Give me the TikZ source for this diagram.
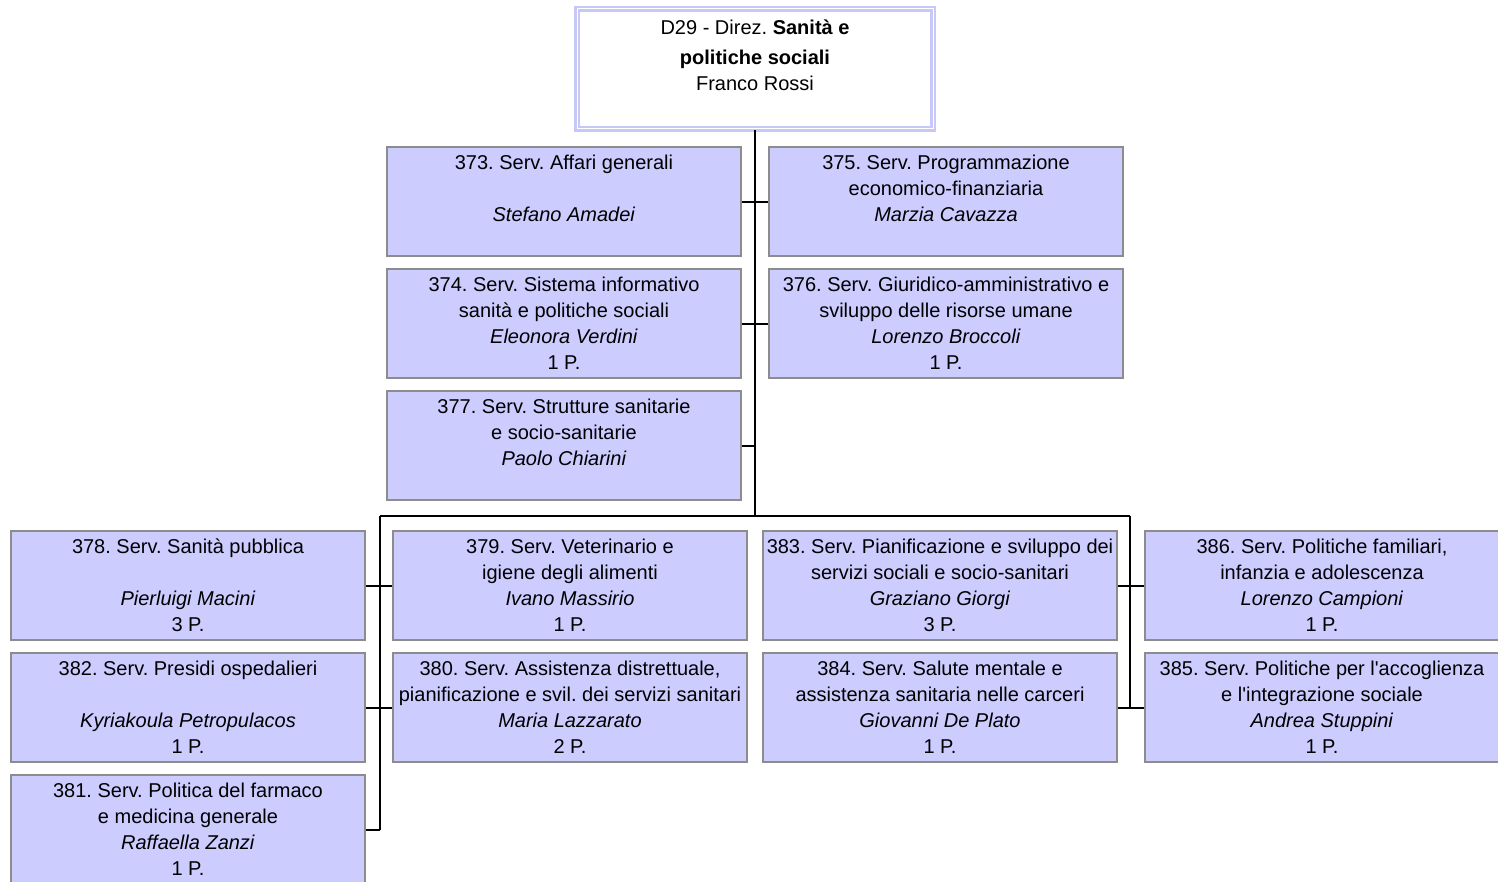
\documentclass[tikz,border=0pt]{standalone}
\usepackage{fontspec}
\setmainfont{Liberation Sans}
\usetikzlibrary{positioning}
\definecolor{unitfill}{HTML}{CCCCFF}
\definecolor{unitline}{HTML}{8C8C8C}
\definecolor{direzline}{HTML}{C8C8F8}
\newcommand{\firstln}{\rule{0pt}{16pt}}
\newcommand{\lastln}{\rule[-2pt]{0pt}{2pt}}
\tikzset{
  unit/.style = {rectangle, draw=unitline, fill=unitfill, line width=2pt,
    minimum width=354pt, minimum height=109pt, inner sep=0pt, align=center,
    font=\fontsize{20}{26}\selectfont\frenchspacing},
  direz/.style = {unit, fill=white, draw=direzline, double=white,
    double distance=1pt, line width=2.5pt, minimum width=356pt, minimum height=120pt},
  conn/.style = {black, line width=2pt},
}

\begin{document}
\begin{tikzpicture}[x=1pt, y=-1pt, node distance=11pt and 26pt]
\useasboundingbox (0,0) rectangle (1498,881);

\node [direz] (d29) at (755,68.5) {\firstln D29 - Direz. \textbf{Sanità e}\\[4pt] \textbf{politiche sociali}\\ Franco Rossi\\ \mbox{}\lastln};

% staff units
\node [unit] (s373) at (564,201.5) {\firstln 373. Serv. Affari generali\\ \mbox{}\\ \textit{Stefano Amadei}\\ \mbox{}\lastln};
\node [unit, right=of s373] (s375) {\firstln 375. Serv. Programmazione\\ economico-finanziaria\\ \textit{Marzia Cavazza}\\ \mbox{}\lastln};
\node [unit, below=of s373] (s374) {\firstln 374. Serv. Sistema informativo\\ sanità e politiche sociali\\ \textit{Eleonora Verdini}\\ 1 P.\lastln};
\node [unit, right=of s374] (s376) {\firstln 376. Serv. Giuridico-amministrativo e\\ sviluppo delle risorse umane\\ \textit{Lorenzo Broccoli}\\ 1 P.\lastln};
\node [unit, below=of s374] (s377) {\firstln 377. Serv. Strutture sanitarie\\ e socio-sanitarie\\ \textit{Paolo Chiarini}\\ \mbox{}\lastln};

% line units
\node [unit] (s378) at (188,585.5) {\firstln 378. Serv. Sanità pubblica\\ \mbox{}\\ \textit{Pierluigi Macini}\\ 3 P.\lastln};
\node [unit, below=of s378] (s382) {\firstln 382. Serv. Presidi ospedalieri\\ \mbox{}\\ \textit{Kyriakoula Petropulacos}\\ 1 P.\lastln};
\node [unit, below=of s382] (s381) {\firstln 381. Serv. Politica del farmaco\\ e medicina generale\\ \textit{Raffaella Zanzi}\\ 1 P.\lastln};
\node [unit, right=of s378] (s379) {\firstln 379. Serv. Veterinario e\\ igiene degli alimenti\\ \textit{Ivano Massirio}\\ 1 P.\lastln};
\node [unit, below=of s379] (s380) {\firstln 380. Serv. Assistenza distrettuale,\\ pianificazione e svil. dei servizi sanitari\\ \textit{Maria Lazzarato}\\ 2 P.\lastln};
\node [unit, right=14pt of s379] (s383) {\firstln 383. Serv. Pianificazione e sviluppo dei\\ servizi sociali e socio-sanitari\\ \textit{Graziano Giorgi}\\ 3 P.\lastln};
\node [unit, below=of s383] (s384) {\firstln 384. Serv. Salute mentale e\\ assistenza sanitaria nelle carceri\\ \textit{Giovanni De Plato}\\ 1 P.\lastln};
\node [unit, right=of s383] (s386) {\firstln 386. Serv. Politiche familiari,\\ infanzia e adolescenza\\ \textit{Lorenzo Campioni}\\ 1 P.\lastln};
\node [unit, below=of s386] (s385) {\firstln 385. Serv. Politiche per l\textquotesingle accoglienza\\ e l\textquotesingle integrazione sociale\\ \textit{Andrea Stuppini}\\ 1 P.\lastln};

\coordinate (busL) at (380,516);
\coordinate (busR) at (1130,516);

\draw [conn] (d29.south) -- (d29.south |- busL);
\draw [conn] (busL) -- (busR);
\draw [conn] (s373.east) -- (s375.west);
\draw [conn] (s374.east) -- (s376.west);
\draw [conn] (s377.east) -- (s377.east -| d29.south);
\draw [conn] (busL) -- (busL |- s381.east);
\draw [conn] (busR) -- (busR |- s385.west);
\draw [conn] (s378.east) -- (s379.west);
\draw [conn] (s382.east) -- (s380.west);
\draw [conn] (s381.east) -- (s381.east -| busL);
\draw [conn] (s383.east) -- (s386.west);
\draw [conn] (s384.east) -- (s385.west);
\end{tikzpicture}
\end{document}
